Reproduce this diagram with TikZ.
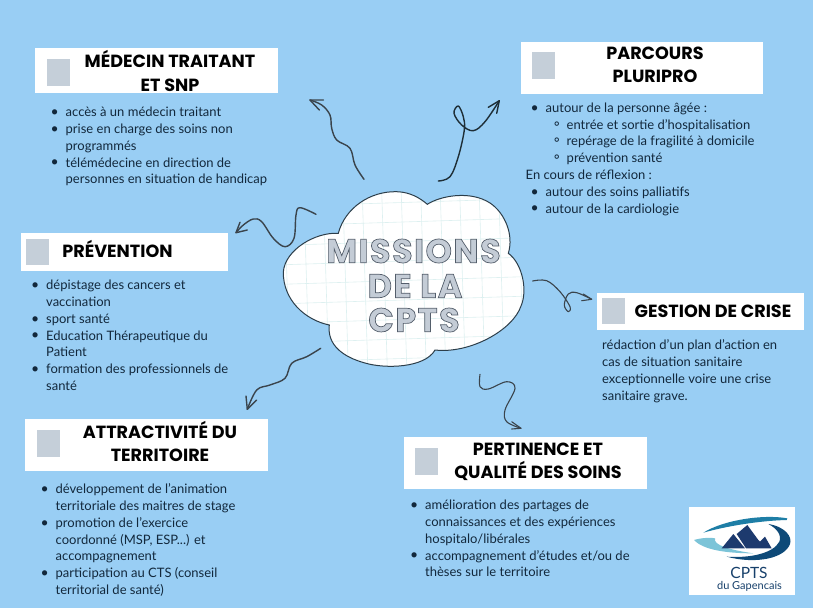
\documentclass[tikz,border=0pt]{standalone}
\usepackage{fontspec}
\setmainfont{Lato}
\newfontfamily\headfont{Poppins}
\newfontfamily\titlefont[LetterSpace=4.5]{Poppins}
\definecolor{bgblue}{HTML}{99CEF4}
\definecolor{bodyink}{HTML}{12283C}
\definecolor{squaregray}{HTML}{C5CFD9}
\definecolor{gridline}{HTML}{DDF0F0}
\definecolor{arrowink}{HTML}{3A444C}
\definecolor{darkarrow}{HTML}{1E2E36}
\definecolor{cloudink}{HTML}{2C3E4A}
\definecolor{logotop}{HTML}{1E7EA6}
\definecolor{logolight}{HTML}{7CC4D8}
\definecolor{logonavy}{HTML}{0E4A78}
\definecolor{logomount}{HTML}{1D3A6E}
\definecolor{logotext}{HTML}{17406B}
\tikzset{
  headbox/.style={fill=white,draw=none,inner sep=0pt,anchor=north west},
  graysq/.style={fill=squaregray,draw=none,inner sep=0pt,anchor=north west},
  headtext/.style={inner sep=0pt,align=center,text=black,font=\headfont\bfseries\fontsize{17.6}{23.3}\selectfont},
  bodytext/.style={inner sep=0pt,anchor=north west,align=left,text=bodyink,font=\fontsize{13}{16.8}\selectfont},
  wavy/.style={draw=arrowink,line width=1.4pt,line cap=round,line join=round},
  darkwavy/.style={wavy,draw=darkarrow},
  thinwavy/.style={wavy,line width=1.1pt},
  titletext/.style={inner sep=0pt,anchor=center,font=\titlefont\bfseries\fontsize{33.5}{35}\selectfont},
}
\newcommand{\bul}{\rule{0pt}{9pt}\llap{\raisebox{0.2pt}{\fontsize{14}{14}\selectfont •}\hspace{7pt}}}
\newcommand{\cir}{\rule{0pt}{9pt}\llap{\raisebox{0pt}{\fontsize{16}{14}\selectfont ◦}\hspace{6.5pt}}}
\newcommand{\outl}[1]{\special{pdf:code 2 Tr 0.7 w 0.77 0.80 0.84 rg 0.33 0.37 0.42 RG}#1\special{pdf:code 0 Tr}}
\begin{document}
\begin{tikzpicture}[x=1pt,y=-1pt]
\useasboundingbox (0,0) rectangle (813,608);
\fill[bgblue] (0,0) rectangle (813,608);

% cloud
\def\cloudpath{
 (427.3,204.3) .. controls (440,196) and (470,190) .. (490,203)
 .. controls (505,213) and (514,235) .. (508.3,253.3)
 .. controls (522,263) and (528,290) .. (521,306)
 .. controls (513,330) and (470,354) .. (435,350)
 .. controls (425,368) and (385,369) .. (365,363)
 .. controls (343,357) and (327,345) .. (329.3,325)
 .. controls (305,320) and (283,300) .. (283.3,272)
 .. controls (285,250) and (315,232) .. (338.3,233.3)
 .. controls (345,208) and (370,191) .. (396.7,191.7)
 .. controls (410,192) and (420,198) .. (427.3,204.3) -- cycle}
\fill[white] \cloudpath;
\begin{scope}
\clip \cloudpath;
\foreach \i in {0,...,13}{
  \draw[gridline,line width=.6pt] (284+\i*19.5,185) -- (290+\i*19.5,375);
}
\foreach \j in {0,...,10}{
  \draw[gridline,line width=.6pt] (275,187+\j*19.5) -- (530,179+\j*19.5);
}
\end{scope}
\draw[cloudink,line width=1pt] \cloudpath;

\node[titletext] (t1) at (413.5,251) {\outl{MISSIONS}};
\node[titletext] (t2) at (415,286) {\outl{DE LA}};
\node[titletext] (t3) at (414,320) {\outl{CPTS}};

% boxes
\node[headbox,minimum width=243pt,minimum height=45pt] (b1) at (35,48) {};
\node[headbox,minimum width=242pt,minimum height=52pt] (b2) at (521,42) {};
\node[headbox,minimum width=207pt,minimum height=38pt] (b3) at (21,233) {};
\node[headbox,minimum width=207pt,minimum height=37pt] (b4) at (597,293) {};
\node[headbox,minimum width=243pt,minimum height=52pt] (b5) at (25,419) {};
\node[headbox,minimum width=243pt,minimum height=52pt] (b6) at (404,437) {};
% squares
\node[graysq,minimum width=23pt,minimum height=27pt] (s1) at (47,59) {};
\node[graysq,minimum width=23pt,minimum height=27pt] (s2) at (532,52) {};
\node[graysq,minimum width=23pt,minimum height=26pt] (s3) at (26,239) {};
\node[graysq,minimum width=23pt,minimum height=26pt] (s4) at (602,298) {};
\node[graysq,minimum width=23pt,minimum height=27pt] (s5) at (37,430) {};
\node[graysq,minimum width=23pt,minimum height=27pt] (s6) at (415,448) {};
% headings
\node[headtext] (h1) at (170,71) {MÉDECIN TRAITANT\\ET SNP};
\node[headtext] (h2) at (655,65) {PARCOURS\\PLURIPRO};
\node[headtext] (h3) at (117.5,249) {PRÉVENTION};
\node[headtext] (h4) at (713,311.5) {GESTION DE CRISE};
\node[headtext] (h5) at (160,441.5) {ATTRACTIVITÉ DU\\TERRITOIRE};
\node[headtext] (h6) at (538,461.5) {PERTINENCE ET\\QUALITÉ DES SOINS};

% body text
\node[bodytext] (p1) at (65.5,107) {\bul accès à un médecin traitant\\
\bul prise en charge des soins non\\programmés\\
\bul télémédecine en direction de\\personnes en situation de handicap};
\node[bodytext] (p2) at (525.5,102.5) {\hspace{20pt}\bul autour de la personne âgée :\\
\hspace{41pt}\cir entrée et sortie d'hospitalisation\\
\hspace{41pt}\cir repérage de la fragilité à domicile\\
\hspace{41pt}\cir prévention santé\\
En cours de réflexion :\\
\hspace{20pt}\bul autour des soins palliatifs\\
\hspace{20pt}\bul autour de la cardiologie};
\node[bodytext] (p3) at (46,280) {\bul dépistage des cancers et\\vaccination\\
\bul sport santé\\
\bul Education Thérapeutique du\\Patient\\
\bul formation des professionnels de\\santé};
\node[bodytext] (p4) at (602,339.5) {\rule{0pt}{9pt}rédaction d'un plan d'action en\\
cas de situation sanitaire\\
exceptionnelle voire une crise\\
sanitaire grave.};
\node[bodytext] (p5) at (55.5,483.5) {\bul développement de l'animation\\territoriale des maitres de stage\\
\bul promotion de l'exercice\\coordonné (MSP, ESP...) et\\accompagnement\\
\bul participation au CTS (conseil\\territorial de santé)};
\node[bodytext] (p6) at (425,500) {\bul amélioration des partages de\\connaissances et des expériences\\hospitalo/libérales\\
\bul accompagnement d'études et/ou de\\thèses sur le territoire};

% connectors
\coordinate (a1s) at (364,179.3); \coordinate (a1t) at (310,100);
\coordinate (a2s) at (438.3,181); \coordinate (a2t) at (499.3,100.7);
\coordinate (a3s) at (316,214.3); \coordinate (a3t) at (236,232.7);
\coordinate (a4s) at (532.7,281); \coordinate (a4t) at (591.7,299.3);
\coordinate (a5s) at (480,374.3); \coordinate (a5t) at (521,428.3);
\coordinate (a6s) at (320.7,348.3); \coordinate (a6t) at (247.3,409.3);

\draw[wavy] plot[smooth,tension=.6] coordinates {(a1s) (355,165) (350,148.3) (336.7,140) (331.7,128.3) (330,115) (321.7,105) (a1t)};
\draw[wavy] (323.3,100) -- (a1t) -- (319.3,110);

\draw[darkwavy] plot[smooth,tension=.6] coordinates {(a2s) (450,176.7) (458.3,156.7) (464.3,130) (463.3,116.7) (458.3,106) (454,113.3) (461.7,125) (473.3,130.7) (485,121.7) (a2t)};
\draw[darkwavy] (488.3,107.3) -- (a2t) -- (496.7,113.3);

\draw[wavy] plot[smooth,tension=.6] coordinates {(a3s) (300,207.7) (296,215) (294,238.3) (285,246.7) (273.3,238.3) (261.7,221.7) (253.3,219) (243.3,225) (a3t)};
\draw[wavy] (240,222.3) -- (a3t) -- (247.3,230);

\draw[thinwavy] plot[smooth,tension=.6] coordinates {(a4s) (546.7,280.7) (560,291.7) (570,306.7) (568.3,311.7) (564.3,305) (568.3,294) (576.7,292.7) (a4t)};
\draw[thinwavy] (583.3,294) -- (a4t) -- (581.7,300.7);

\draw[thinwavy] plot[smooth,tension=.6] coordinates {(a5s) (480,386.7) (488.3,389) (506.7,381.7) (515,388.3) (505,410) (506.7,421.7) (a5t)};
\draw[thinwavy] (511.7,421.7) -- (a5t) -- (511.7,429);

\draw[wavy] plot[smooth,tension=.6] coordinates {(a6s) (306.7,356.7) (291.7,363.3) (285,378.3) (270,385) (256.7,390) (a6t)};
\draw[wavy] (246,396) -- (a6t) -- (256.7,400);

% logo
\node[headbox,minimum width=106pt,minimum height=88pt] (logo) at (689,507) {};
\begin{scope}[shift={(670,490)},x=0.3333pt,y=-0.3333pt]
\fill[logotop] (100,128) .. controls (160,90) and (280,72) .. (352,85) .. controls (352,90) and (352,90) .. (350,90) .. controls (270,92) and (170,108) .. (100,128) -- cycle;
\fill[logolight] (72,150) .. controls (95,143) and (125,142) .. (135,145) .. controls (128,165) and (180,180) .. (250,190) .. controls (170,190) and (100,180) .. (72,150) -- cycle;
\fill[logonavy] (295,102) .. controls (345,110) and (368,140) .. (360,162) .. controls (345,204) and (260,224) .. (170,200) .. controls (240,205) and (310,190) .. (328,155) .. controls (336,135) and (320,115) .. (295,102) -- cycle;
\fill[logomount] (155,175) -- (190,132) -- (225,175) -- cycle;
\fill[logomount] (200,132) -- (232,105) -- (265,150) -- (270,155) -- (285,140) -- (305,175) -- (228,175) -- cycle;
\end{scope}
\node[inner sep=0pt,text=logotext,font=\fontsize{15.5}{15}\selectfont] (lt1) at (749,573) {CPTS};
\node[inner sep=0pt,text=logotext,font=\fontsize{11}{11}\selectfont] (lt2) at (749.5,586.5) {du Gapencais};
\end{tikzpicture}
\end{document}
